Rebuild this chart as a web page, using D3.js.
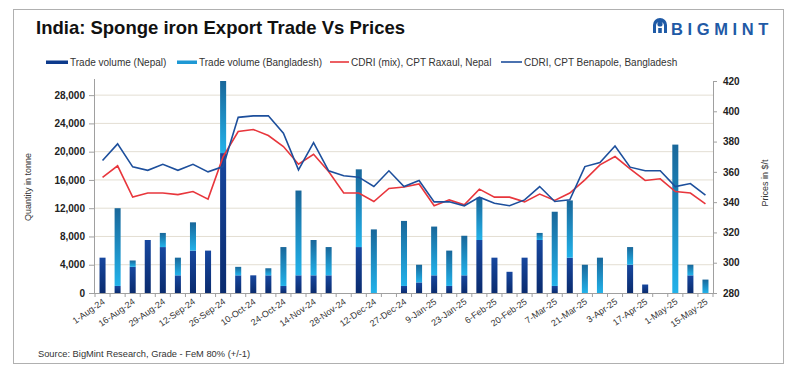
<!DOCTYPE html>
<html><head><meta charset="utf-8">
<script src="https://cdn.jsdelivr.net/npm/d3@7"></script>
<style>
html,body{margin:0;padding:0;background:#fff;}
svg{display:block;font-family:"Liberation Sans",Arial,sans-serif;}
</style></head>
<body><svg id="c" width="800" height="378"></svg>
<script>
const categories = ["1-Aug-24","8-Aug-24","16-Aug-24","22-Aug-24","29-Aug-24","5-Sep-24","12-Sep-24","19-Sep-24","26-Sep-24","3-Oct-24","10-Oct-24","17-Oct-24","24-Oct-24","7-Nov-24","14-Nov-24","21-Nov-24","28-Nov-24","5-Dec-24","12-Dec-24","19-Dec-24","27-Dec-24","3-Jan-25","9-Jan-25","16-Jan-25","23-Jan-25","30-Jan-25","6-Feb-25","13-Feb-25","20-Feb-25","27-Feb-25","7-Mar-25","13-Mar-25","21-Mar-25","27-Mar-25","3-Apr-25","10-Apr-25","17-Apr-25","24-Apr-25","1-May-25","8-May-25","15-May-25"];
const nepalVolume = [5000,1000,3700,7500,6500,2500,6000,6000,19800,2500,2500,2500,1000,2500,2500,2500,0,6500,0,0,1000,1500,2500,1000,2500,7500,5000,3000,5000,7500,1000,5000,0,0,0,4000,1200,0,0,2500,0];
const bangladeshVolume = [0,11000,900,0,2000,2500,4000,0,10200,1200,0,1000,5500,12000,5000,4000,0,11000,9000,0,9200,2500,6900,5000,5600,6000,0,0,0,1000,10500,8100,4000,5000,0,2500,0,0,21000,1500,1900];
const nepalPrice = [356.3,364,343.3,346,346,345,347,342,370,386.6,388,384,376.7,365,371.6,360.2,346,346,340.4,349,350,352,337.6,341.5,338.2,348.6,343.3,343.3,340.2,345.3,341.1,346,354.7,364.6,370.1,362,354.3,355.4,347,346,338.9];
const bangladeshPrice = [367.5,378.5,363.3,361,365,361,365,360,363.5,396,397,397,385.5,361.3,379.3,360.7,357.4,356.5,350.3,360.7,350.3,354.3,340.2,340.2,337.6,343.3,339.3,337.6,341.5,350.3,340.4,341.5,363.5,366.2,377.1,363.1,360.7,360.7,350.3,352.3,344.6];
const leftTicks = [0,4000,8000,12000,16000,20000,24000,28000];
const rightTicks = [280,300,320,340,360,380,400,420];
const seriesNames = ["Trade volume (Nepal)","Trade volume (Bangladesh)","CDRI (mix), CPT Raxaul, Nepal","CDRI, CPT Benapole, Bangladesh"];

const svg = d3.select("#c");
const m = {l:95, r:713, t:81, b:293};

// frame
svg.append("rect").attr("x",13.5).attr("y",9.5).attr("width",770).attr("height",354)
  .attr("fill","#fff").attr("stroke","#b0b0b0").attr("stroke-width",1);

// gradients
const defs = svg.append("defs");
const g1 = defs.append("linearGradient").attr("id","gNep").attr("x1",0).attr("y1",0).attr("x2",0).attr("y2",1);
g1.append("stop").attr("offset","0%").attr("stop-color","#17479f");
g1.append("stop").attr("offset","100%").attr("stop-color","#0a2b6e");
const g2 = defs.append("linearGradient").attr("id","gBd").attr("x1",0).attr("y1",0).attr("x2",0).attr("y2",1);
g2.append("stop").attr("offset","0%").attr("stop-color","#19679a");
g2.append("stop").attr("offset","100%").attr("stop-color","#22b2ea");
defs.append("clipPath").attr("id","plotClip").append("rect")
  .attr("x",m.l).attr("y",m.t).attr("width",m.r-m.l).attr("height",m.b-m.t);

const x = d3.scaleBand().domain(categories).range([m.l,m.r]).paddingInner(0.6).paddingOuter(0.3);
const y = d3.scaleLinear().domain([0,30000]).range([m.b,m.t]);
const y2 = d3.scaleLinear().domain([280,420]).range([m.b,m.t]);
const step = x.step();
const cx = d => x(d) + x.bandwidth()/2;

// gridlines
svg.append("g").selectAll("line").data(leftTicks.filter(d=>d>0)).join("line")
  .attr("x1",m.l).attr("x2",m.r).attr("y1",d=>y(d)).attr("y2",d=>y(d))
  .attr("stroke","#e3ded3").attr("stroke-width",1);

// bars
const bars = svg.append("g").attr("clip-path","url(#plotClip)");
categories.forEach((c,i)=>{
  const n = nepalVolume[i], b = bangladeshVolume[i];
  if(n>0) bars.append("rect").attr("x",x(c)).attr("width",x.bandwidth())
    .attr("y",y(n)).attr("height",y(0)-y(n)).attr("fill","url(#gNep)");
  if(b>0) bars.append("rect").attr("x",x(c)).attr("width",x.bandwidth())
    .attr("y",y(n+b)).attr("height",y(n)-y(n+b)).attr("fill","url(#gBd)");
});

// lines
const line = arr => d3.line().x((d,i)=>cx(categories[i])).y(d=>y2(d))(arr);
svg.append("path").attr("d",line(nepalPrice)).attr("fill","none").attr("stroke","#e8363c").attr("stroke-width",1.6);
svg.append("path").attr("d",line(bangladeshPrice)).attr("fill","none").attr("stroke","#1d4f9c").attr("stroke-width",1.6);

// left axis
const la = svg.append("g").attr("transform",`translate(${m.l},0)`)
  .call(d3.axisLeft(y).tickValues(leftTicks).tickSize(6).tickPadding(4).tickFormat(d3.format(",")));
la.select(".domain").attr("stroke","#a0a0a0").attr("d",`M-0.5,${m.b}V${m.t-2}`);
la.selectAll(".tick line").attr("stroke","#a0a0a0");
la.selectAll("text").attr("font-size",10).attr("font-weight","bold").attr("fill","#222").attr("font-family","Liberation Sans,Arial,sans-serif");

// right axis
const ra = svg.append("g").attr("transform",`translate(${m.r},0)`)
  .call(d3.axisRight(y2).tickValues(rightTicks).tickSize(4).tickPadding(6));
ra.select(".domain").attr("stroke","#a0a0a0");
ra.selectAll(".tick line").attr("stroke","#a0a0a0");
ra.selectAll("text").attr("font-size",10).attr("font-weight","bold").attr("fill","#222").attr("font-family","Liberation Sans,Arial,sans-serif");

// x axis
const xa = svg.append("g");
xa.append("line").attr("x1",m.l).attr("x2",m.r).attr("y1",m.b+0.5).attr("y2",m.b+0.5).attr("stroke","#a0a0a0");
const bounds = categories.map(c=>cx(c)-step/2).concat([cx(categories[categories.length-1])+step/2]);
xa.selectAll("line.tk").data(bounds).join("line").attr("class","tk")
  .attr("x1",d=>d).attr("x2",d=>d).attr("y1",m.b).attr("y2",m.b+4).attr("stroke","#a0a0a0");
xa.selectAll("text").data(categories.filter((c,i)=>i%2===0)).join("text")
  .attr("transform",d=>`translate(${cx(d)+3},${m.b+10}) rotate(-35)`)
  .attr("text-anchor","end").attr("font-size",9).attr("fill","#333").text(d=>d);

// axis titles
svg.append("text").attr("transform","translate(31,187) rotate(-90)").attr("text-anchor","middle")
  .attr("font-size",9).attr("fill","#333").text("Quantity in tonne");
svg.append("text").attr("transform","translate(768,183) rotate(-90)").attr("text-anchor","middle")
  .attr("font-size",9).attr("fill","#333").text("Prices in $/t");

// title
svg.append("text").attr("x",36).attr("y",34).attr("font-size",18.5).attr("font-weight","bold")
  .attr("fill","#111").text("India: Sponge iron Export Trade Vs Prices");

// legend
const leg = [
  {x:46, w:22, type:"bar", color:"#0d3a8c", h:3.5},
  {x:177, w:20, type:"bar", color:"#1e98d4", h:3.5},
  {x:330, w:19, type:"line", color:"#e8363c"},
  {x:501, w:21, type:"line", color:"#1d4f9c"}
];
leg.forEach((l,i)=>{
  if(l.type==="bar") svg.append("rect").attr("x",l.x).attr("y",60.5).attr("width",l.w).attr("height",l.h).attr("fill",l.color);
  else svg.append("line").attr("x1",l.x).attr("x2",l.x+l.w).attr("y1",62).attr("y2",62).attr("stroke",l.color).attr("stroke-width",1.6);
  svg.append("text").attr("x",l.x+l.w+2).attr("y",65.5).attr("font-size",10).attr("fill","#333").text(seriesNames[i]);
});

// source
svg.append("text").attr("x",38).attr("y",357).attr("font-size",9.3).attr("fill","#333")
  .text("Source: BigMint Research, Grade - FeM 80% (+/-1)");

// logo
const lg = svg.append("g").attr("transform","translate(660,25)");
lg.append("path").attr("d","M-7,8 V0 A7,7 0 0 1 7,0 V8 H4 V1 A4,4 0 0 0 -4,1 V8 Z").attr("fill","#1f5aa6");
lg.append("circle").attr("cx",0).attr("cy",-1).attr("r",2.6).attr("fill","#1f5aa6");
lg.append("path").attr("d","M-1.8,8 V3 H1.8 V8 Z").attr("fill","#1f5aa6");
svg.append("text").attr("x",671).attr("y",34.5).attr("font-size",16.5).attr("font-weight","bold")
  .attr("letter-spacing",4.6).attr("fill","#1f5aa6").text("BIGMINT");
</script></body></html>
